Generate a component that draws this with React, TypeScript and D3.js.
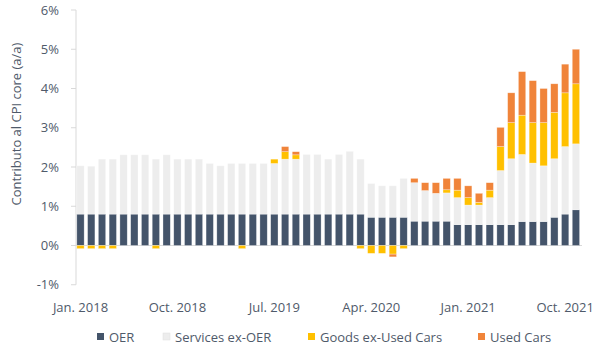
import React from "react";
import * as d3 from "d3";

const months: string[] = [];
for (let y = 2018; y <= 2021; y++) {
  for (let m = 0; m < 12; m++) {
    if (y === 2021 && m === 11) break;
    months.push(`${y}-${String(m + 1).padStart(2, "0")}`);
  }
}

const oer = [
  0.8, 0.8, 0.8, 0.8, 0.8, 0.8, 0.8, 0.8, 0.8, 0.8, 0.8, 0.8,
  0.8, 0.8, 0.8, 0.8, 0.8, 0.8, 0.8, 0.8, 0.8, 0.8, 0.8, 0.8,
  0.8, 0.8, 0.8, 0.72, 0.72, 0.72, 0.72, 0.62, 0.62, 0.62, 0.62, 0.53,
  0.53, 0.53, 0.53, 0.53, 0.53, 0.61, 0.61, 0.61, 0.72, 0.8, 0.91,
];
const servicesExOer = [
  1.23, 1.22, 1.4, 1.4, 1.51, 1.51, 1.51, 1.4, 1.51, 1.4, 1.4, 1.4,
  1.29, 1.23, 1.29, 1.29, 1.29, 1.29, 1.29, 1.4, 1.4, 1.52, 1.52, 1.4,
  1.52, 1.6, 1.4, 0.86, 0.8, 0.8, 0.99, 0.98, 0.78, 0.71, 0.72, 0.69,
  0.5, 0.5, 0.69, 1.38, 1.68, 1.71, 1.49, 1.42, 1.49, 1.72, 1.68,
];
const goodsExUsedCars = [
  -0.08, -0.08, -0.08, -0.08, 0, 0, 0, -0.08, 0, 0, 0, 0,
  0, 0, 0, -0.08, 0, 0, 0.11, 0.19, 0.11, 0, 0, 0,
  0, 0, -0.08, -0.2, -0.2, -0.22, -0.08, 0, 0, 0, 0.08, 0.19,
  0.19, 0.07, 0.19, 0.61, 0.92, 1.0, 1.03, 1.1, 1.18, 1.37, 1.53,
];
const usedCars = [
  0, 0, 0, 0, 0, 0, 0, 0, 0, 0, 0, 0,
  0, 0, 0, 0, 0, 0, 0, 0.13, 0.08, 0, 0, 0,
  0, 0, 0, 0, 0, -0.07, 0, 0.11, 0.2, 0.27, 0.29, 0.3,
  0.3, 0.23, 0.19, 0.49, 0.76, 1.11, 1.07, 0.87, 0.73, 0.73, 0.88,
];

const seriesNames = ["OER", "Services ex-OER", "Goods ex-Used Cars", "Used Cars"];
const seriesColors = ["#44546A", "#EDEDED", "#FFC000", "#F0843A"];
const yTicks = [-1, 0, 1, 2, 3, 4, 5, 6];
const xLabelIdx = [0, 9, 18, 27, 36, 45];
const xLabels = ["Jan. 2018", "Oct. 2018", "Jul. 2019", "Apr. 2020", "Jan. 2021", "Oct. 2021"];

const W = 609;
const H = 346;
const FONT = "'Segoe UI', 'Open Sans', sans-serif";
const TEXT = "#4F5A6A";

export default function App() {
  const rows = months.map((m, i) => ({
    m,
    OER: oer[i],
    "Services ex-OER": servicesExOer[i],
    "Goods ex-Used Cars": goodsExUsedCars[i],
    "Used Cars": usedCars[i],
  }));
  const stack = d3
    .stack<any>()
    .keys(seriesNames)
    .offset(d3.stackOffsetDiverging);
  const layers = stack(rows);

  const x = d3.scaleBand<string>().domain(months).range([75.1, 581.3]).paddingInner(0.32).paddingOuter(0.16);
  const y = d3.scaleLinear().domain([-1, 6]).range([284.75, 10]);
  const axisX = 76;

  return (
    <svg width={W} height={H} style={{ position: "absolute", left: 0, top: 0 }}>
      <rect width={W} height={H} fill="#fff" />
      {/* y axis */}
      <line x1={axisX} x2={axisX} y1={y(6)} y2={y(-1)} stroke="#D9D9D9" strokeWidth={1} />
      {yTicks.map((t) => (
        <g key={t}>
          <line x1={axisX - 5} x2={axisX} y1={y(t)} y2={y(t)} stroke="#D9D9D9" />
          <text x={59} y={y(t)} dy="0.35em" textAnchor="end" fontSize={13} fontFamily={FONT} fill={TEXT}>
            {`${t}%`}
          </text>
        </g>
      ))}
      <line x1={axisX} x2={582} y1={y(0)} y2={y(0)} stroke="#D9D9D9" strokeWidth={1} />
      {/* bars */}
      {layers.map((layer, li) => (
        <g key={layer.key} fill={seriesColors[li]}>
          {layer.map((d, i) => {
            const y0 = Math.min(d[0], d[1]);
            const y1 = Math.max(d[0], d[1]);
            if (y1 - y0 <= 0) return null;
            return (
              <rect
                key={i}
                x={x(months[i])}
                width={x.bandwidth()}
                y={y(y1)}
                height={y(y0) - y(y1)}
                stroke="#FFFFFF"
                strokeOpacity={0.5}
                strokeWidth={0.6}
              />
            );
          })}
        </g>
      ))}
      {/* x labels */}
      {xLabelIdx.map((idx, k) => (
        <text
          key={idx}
          x={(x(months[idx]) as number) + x.bandwidth() / 2}
          y={307}
          dy="0.35em"
          textAnchor="middle"
          fontSize={13}
          fontFamily={FONT}
          fill={TEXT}
        >
          {xLabels[k]}
        </text>
      ))}
      {/* y title */}
      <text
        transform={`translate(16,${124}) rotate(-90)`}
        textAnchor="middle"
        dy="0.35em"
        fontSize={13}
        fontFamily={FONT}
        fill={TEXT}
      >
        Contributo al CPI core (a/a)
      </text>
      {/* legend */}
      {seriesNames.map((s, i) => {
        const lx = [97, 163, 308, 478][i];
        return (
          <g key={s}>
            <rect x={lx} y={333} width={7} height={7} fill={seriesColors[i]} stroke={i === 1 ? "#E0E0E0" : "none"} strokeWidth={0.5} />
            <text x={lx + 12} y={337} dy="0.35em" fontSize={13} fontFamily={FONT} fill={TEXT}>
              {s}
            </text>
          </g>
        );
      })}
    </svg>
  );
}
